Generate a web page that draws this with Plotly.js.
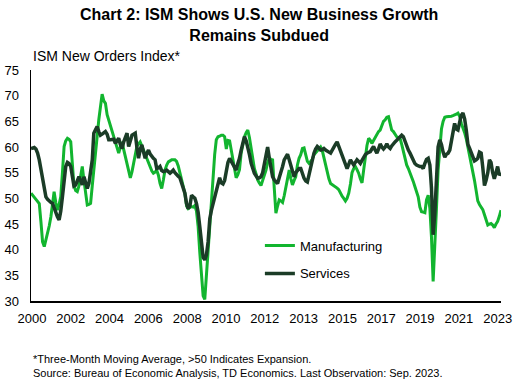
<!DOCTYPE html>
<html>
<head>
<meta charset="utf-8">
<script src="https://cdn.plot.ly/plotly-3.0.1.min.js"></script>
<style>html,body{margin:0;padding:0;background:#fff;}#chart{width:517px;height:385px;}</style>
</head>
<body>
<div id="chart"></div>
<script>
// Monthly observations, first month Jan 2000, last month Sep 2023 (3-month moving average)
const startYear = 2000;
const startMonth = 1;
const seriesNames = ["Manufacturing", "Services"];
const tickLabels = ["2000","2002","2004","2006","2008","2010","2012","2013","2015","2017","2019","2021","2023"];

const manufacturing = [
51.0,50.6,50.3,50.0,49.6,49.0,45.5,41.5,40.6,41.8,43.2,44.6,
46.4,48.8,51.3,49.2,47.7,48.8,50.3,55.0,60.1,61.2,61.7,61.5,
61.0,56.5,52.5,51.5,51.3,52.4,54.0,56.2,53.5,50.5,48.7,48.8,
49.0,52.5,56.0,58.8,62.0,65.3,68.0,70.3,69.0,68.5,66.3,65.3,
64.3,63.3,62.0,61.0,60.0,58.8,60.0,61.0,59.5,58.1,56.8,55.5,
54.0,55.2,56.8,58.5,60.1,60.6,61.0,60.2,59.4,58.5,57.8,57.0,
55.9,55.3,54.9,55.1,55.5,54.5,52.9,51.9,53.6,55.5,56.5,57.1,
57.3,57.5,57.5,57.5,57.2,56.3,55.0,53.8,52.6,51.0,48.5,48.0,
48.2,48.4,48.3,48.6,47.5,44.5,39.5,35.0,31.0,30.3,35.0,40.5,
46.0,50.5,54.2,58.5,61.4,62.0,62.1,62.3,62.3,62.0,59.6,61.3,
61.2,59.4,57.8,56.3,54.0,54.6,55.6,58.8,60.5,62.0,62.8,63.3,
61.8,59.6,57.5,55.8,54.8,53.6,53.0,52.5,53.5,54.3,55.5,57.0,
57.8,57.6,57.5,52.0,47.1,48.5,49.7,49.5,49.2,50.5,52.3,54.5,
55.5,53.8,52.6,53.5,54.2,56.5,57.8,58.5,59.7,59.8,58.4,57.2,
56.8,57.3,57.6,58.5,58.9,59.2,59.6,60.0,59.3,58.0,56.5,54.9,
53.8,52.9,52.7,52.6,52.3,52.0,51.7,51.0,50.4,50.0,49.5,50.0,
51.0,52.8,55.0,55.8,56.2,55.6,54.9,53.8,53.0,55.5,58.1,60.3,
61.7,61.3,60.7,61.3,62.0,62.4,63.0,63.3,64.4,65.0,65.3,65.8,
65.9,64.5,63.3,63.0,62.5,62.0,61.8,61.7,60.5,59.0,57.5,56.5,
55.8,55.0,54.2,53.3,52.3,51.0,50.3,48.3,47.4,47.3,47.2,49.7,
50.6,48.0,42.5,33.8,40.0,48.0,55.5,59.5,63.5,65.0,65.8,65.9,
65.9,65.9,66.0,66.1,66.2,66.4,66.6,66.0,64.6,63.8,62.8,61.6,
60.0,58.5,56.8,55.0,53.5,51.5,49.5,48.8,48.2,47.8,46.8,46.0,
44.8,45.0,45.1,44.8,44.3,45.0,45.5,46.5,47.7
];

const services = [
59.7,59.8,59.9,59.6,58.8,57.5,55.5,53.6,51.8,50.3,49.8,49.4,
49.2,49.0,48.0,47.1,46.4,45.8,47.5,50.3,53.5,56.2,57.0,56.8,
56.2,53.5,52.4,52.6,53.4,54.2,53.5,52.6,54.2,53.0,51.9,52.9,
55.0,57.5,62.7,63.5,64.0,63.0,62.3,62.5,62.7,63.0,62.5,61.4,
61.4,61.4,61.5,60.7,61.2,61.7,60.5,59.7,61.0,62.0,62.7,60.1,
61.0,62.3,62.5,62.7,60.0,57.8,59.5,60.4,59.0,57.8,58.8,59.4,
58.6,58.1,57.8,57.5,55.8,55.9,56.2,55.4,55.2,55.3,55.5,55.2,
54.9,55.2,55.5,55.0,54.5,54.3,54.0,52.8,52.0,51.0,49.0,48.0,
48.5,50.6,50.3,50.0,49.0,47.3,44.5,41.0,38.5,38.0,39.0,41.5,
46.0,47.7,49.0,50.3,51.5,52.6,54.0,53.0,52.8,53.5,55.5,57.0,
57.8,57.2,56.8,56.0,55.5,56.8,57.8,59.4,60.7,62.0,61.2,60.1,
58.5,56.8,55.8,54.9,54.4,53.9,54.0,54.2,55.0,56.5,58.5,60.0,
57.8,55.5,54.2,53.6,53.2,52.9,54.0,54.9,56.2,57.5,58.2,58.6,
57.5,56.2,55.2,54.2,55.0,55.5,55.8,55.8,54.8,53.9,53.4,53.2,
54.6,56.2,57.6,58.8,59.6,60.1,59.8,59.4,59.5,59.7,59.4,59.1,
59.0,58.8,59.4,60.1,60.5,61.0,60.2,59.4,58.5,57.6,56.5,55.8,
56.6,57.5,57.0,56.5,57.0,57.5,57.2,56.8,57.4,58.1,58.5,58.8,
59.0,59.1,59.6,60.1,59.4,58.8,59.6,60.6,60.0,59.6,60.0,60.6,
60.0,59.7,60.2,60.7,61.0,61.3,61.6,61.9,62.3,62.0,61.0,60.4,
59.4,58.8,58.1,57.4,56.8,56.5,56.3,56.2,56.2,55.8,56.8,57.6,
57.8,56.5,52.0,42.9,47.0,53.6,60.0,61.4,60.5,59.0,58.0,58.6,
58.8,59.4,60.8,63.0,64.6,63.5,63.3,64.8,66.2,66.6,65.5,63.3,
60.5,59.7,58.8,58.1,57.3,57.5,57.8,59.0,58.8,56.0,52.5,53.5,
55.0,57.5,57.0,55.0,53.8,55.0,56.2,54.5,55.0
];

function monthDates(n) {
  const out = [];
  for (let i = 0; i < n; i++) {
    const y = startYear + Math.floor((startMonth - 1 + i) / 12);
    const m = ((startMonth - 1 + i) % 12) + 1;
    out.push(y + "-" + String(m).padStart(2, "0") + "-01");
  }
  return out;
}
const dates = monthDates(manufacturing.length);
const firstDate = dates[0];
const lastDate = dates[dates.length - 1];

// evenly spaced category-style tick positions across the axis
const t0 = new Date(firstDate + "T00:00:00Z").getTime();
const t1 = new Date(lastDate + "T00:00:00Z").getTime();
const tickVals = tickLabels.map((_, k) => {
  const frac = 0.002 + k * (0.991 / (tickLabels.length - 1));
  return new Date(t0 + (t1 - t0) * frac).toISOString().slice(0, 10);
});

const FONT = "Liberation Sans, Arial, sans-serif";

const traces = [
  {x: dates, y: manufacturing, name: seriesNames[0], type: "scatter", mode: "lines",
   line: {color: "#12B52F", width: 3}, legendgroup: "a"},
  {x: dates, y: services, name: seriesNames[1], type: "scatter", mode: "lines",
   line: {color: "#1B3C27", width: 3.5}, legendgroup: "b"}
];

const layout = {
  width: 517, height: 385,
  margin: {l: 31, r: 16, t: 70, b: 84},
  paper_bgcolor: "#ffffff", plot_bgcolor: "#ffffff",
  font: {family: FONT, size: 13, color: "#000"},
  xaxis: {
    type: "date", range: [firstDate, lastDate],
    tickmode: "array", tickvals: tickVals, ticktext: tickLabels,
    showgrid: false, zeroline: false,
    showline: true, linecolor: "#000", linewidth: 2,
    ticks: "", ticklabelstandoff: 4,
    tickfont: {family: FONT, size: 13, color: "#000"}
  },
  yaxis: {
    range: [30, 75], dtick: 5, tick0: 30,
    showgrid: false, zeroline: false,
    showline: true, linecolor: "#000", linewidth: 1.5,
    ticks: "outside", ticklen: 8, tickcolor: "rgba(0,0,0,0)",
    tickfont: {family: FONT, size: 13, color: "#000"}
  },
  showlegend: true,
  legend: {
    x: 0.487, y: 0.305, xanchor: "left", yanchor: "top",
    bgcolor: "rgba(0,0,0,0)", traceorder: "grouped", tracegroupgap: 8,
    font: {family: FONT, size: 13, color: "#000"}
  },
  annotations: [
    {text: "<b>Chart 2: ISM Shows U.S. New Business Growth<br>Remains Subdued</b>",
     xref: "paper", yref: "paper", x: (258.5 - 31) / 470, y: 1 + (70 - 4) / 231,
     xanchor: "center", yanchor: "top", align: "center", showarrow: false,
     font: {family: FONT, size: 16, color: "#000"}},
    {text: "ISM New Orders Index*", xref: "paper", yref: "paper", x: 0.0, y: 1.0,
     xanchor: "left", yanchor: "bottom", yshift: 4, showarrow: false,
     font: {family: FONT, size: 14, color: "#000"}},
    {text: "*Three-Month Moving Average, >50 Indicates Expansion.<br>Source: Bureau of Economic Analysis, TD Economics. Last Observation: Sep. 2023.",
     xref: "paper", yref: "paper", x: 0, y: 1 - (351 - 70) / 231,
     xanchor: "left", yanchor: "top", align: "left", showarrow: false,
     font: {family: FONT, size: 11, color: "#000"}}
  ]
};

Plotly.newPlot("chart", traces, layout, {displayModeBar: false, staticPlot: true});
</script>
</body>
</html>
